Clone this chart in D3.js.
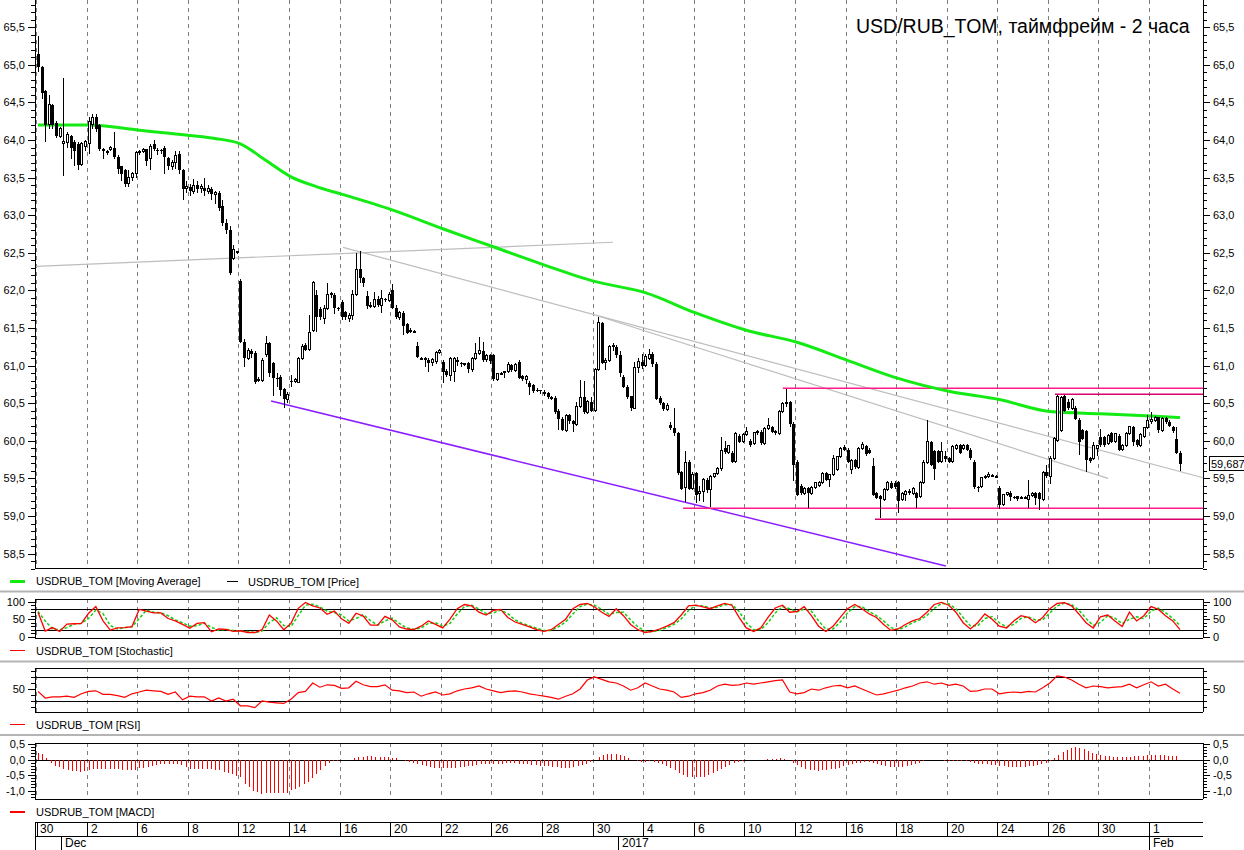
<!DOCTYPE html>
<html>
<head>
<meta charset="utf-8">
<script src="https://cdn.jsdelivr.net/npm/d3@7"></script>
<style>
  body { margin: 0; background: #fff; }
  text { font-family: "Liberation Sans", Arial, sans-serif; fill: #000; }
</style>
</head>
<body>
<div id="chart"></div>
<script>
// ---- data: 2-hour candles USD/RUB_TOM, 30 Nov 2016 - 1 Feb 2017 ----
var opens = [
  65.15,64.97,64.65,64.2,64.47,64.22,64.05,63.95,63.97,64.05,63.98,63.95,63.68,63.92,
  63.95,64.2,64.3,64.2,63.88,63.85,63.88,63.9,63.78,63.65,63.6,63.42,63.5,63.55,
  63.83,63.85,63.88,63.75,63.95,63.87,63.87,63.9,63.76,63.65,63.7,63.82,63.6,63.35,
  63.38,63.32,63.4,63.35,63.36,63.32,63.35,63.28,63.3,63.12,62.9,62.8,62.42,62.52,
  62.12,61.31,61.1,61.2,61.17,60.8,60.8,61.15,61.3,61.03,60.83,60.85,60.69,60.55,
  60.8,60.79,60.78,61.1,61.27,61.21,61.47,61.94,61.75,61.62,61.76,61.96,61.94,61.76,
  61.85,61.71,61.62,61.67,61.95,62.28,62.16,61.92,61.8,61.79,61.89,61.8,61.89,61.87,
  62.0,61.77,61.64,61.7,61.55,61.47,61.46,61.26,61.1,61.1,61.08,61.04,61.06,61.18,
  61.05,60.93,60.87,60.92,61.08,61.03,61.02,61.03,60.95,61.1,61.16,61.2,61.08,61.14,
  61.14,60.82,60.89,60.91,60.92,61.01,60.94,61.05,60.86,60.82,60.77,60.74,60.68,60.67,
  60.65,60.63,60.58,60.57,60.4,60.29,60.14,60.34,60.26,60.22,60.45,60.58,60.38,60.52,
  60.4,60.95,61.57,61.04,61.07,61.25,61.25,61.14,60.85,60.72,60.59,60.43,60.98,61.05,
  61.0,61.1,61.15,61.02,60.57,60.5,60.42,60.21,60.17,60.1,59.58,59.38,59.72,59.36,
  59.57,59.3,59.33,59.48,59.35,59.52,59.56,59.63,59.9,59.85,59.84,59.72,60.07,59.99,
  60.08,60.0,59.96,60.11,60.12,59.96,60.17,60.18,60.13,60.1,60.39,60.5,60.51,60.22,
  59.72,59.4,59.3,59.37,59.3,59.38,59.4,59.44,59.57,59.48,59.55,59.62,59.79,59.92,
  59.88,59.62,59.74,59.65,59.9,59.93,59.88,59.66,59.3,59.26,59.22,59.35,59.44,59.44,
  59.45,59.22,59.28,59.33,59.3,59.3,59.26,59.45,59.71,59.99,59.86,59.86,59.72,59.8,
  59.77,59.72,59.9,59.94,59.9,59.94,59.88,59.72,59.38,59.39,59.51,59.52,59.54,59.53,
  59.37,59.15,59.28,59.31,59.25,59.26,59.25,59.24,59.22,59.27,59.3,59.3,59.22,59.58,
  59.53,59.77,60.01,60.14,60.59,60.51,60.43,60.43,60.28,60.14,60.13,59.77,59.77,59.9,
  60.05,60.05,59.96,60.1,59.99,60.07,59.88,59.94,60.1,60.18,60.01,59.94,60.06,60.18,
  60.26,60.27,60.31,60.14,60.3,60.25,60.18,60.03,59.84
];
var highs = [
  65.38,64.99,64.66,64.6,64.48,64.25,64.17,64.82,64.1,64.06,64.0,63.97,63.97,64.0,
  64.3,64.35,64.35,64.21,63.9,63.87,63.92,64.1,63.8,63.66,63.62,63.6,63.58,63.85,
  63.87,63.9,63.88,63.95,64.0,63.9,63.88,63.92,63.78,63.73,63.85,63.85,63.62,63.45,
  63.42,63.48,63.45,63.42,63.5,63.4,63.38,63.32,63.32,63.2,62.95,62.85,62.6,62.53,
  62.15,61.35,61.23,61.22,61.2,60.85,61.1,61.4,61.32,61.05,60.9,60.87,60.7,60.65,
  60.87,60.83,61.12,61.29,61.3,61.67,62.12,62.0,61.78,61.8,62.1,61.98,61.96,61.78,
  61.87,61.73,61.7,62.0,62.5,62.52,62.18,61.99,61.84,61.98,61.92,62.0,61.9,61.98,
  62.08,61.8,61.72,61.72,61.57,61.5,61.48,61.32,61.12,61.11,61.1,61.1,61.2,61.22,
  61.08,60.95,61.12,61.12,61.12,61.05,61.04,61.05,61.12,61.3,61.38,61.32,61.16,61.16,
  61.16,60.9,60.92,60.93,61.05,61.02,61.03,61.08,60.88,60.87,60.8,60.76,60.7,60.68,
  60.67,60.65,60.6,60.59,60.42,60.31,60.36,60.36,60.28,60.52,60.81,60.8,60.54,60.58,
  60.97,61.65,61.58,61.1,61.27,61.3,61.28,61.2,60.87,60.74,60.6,61.05,61.1,61.15,
  61.15,61.22,61.18,61.05,60.6,60.52,60.5,60.25,60.43,60.12,59.6,59.86,59.74,59.58,
  59.58,59.4,59.5,59.5,59.54,59.57,59.65,60.05,60.0,59.95,59.86,60.12,60.09,60.1,
  60.18,60.02,60.12,60.14,60.14,60.18,60.3,60.2,60.15,60.41,60.52,60.69,60.53,60.25,
  59.74,59.42,59.38,59.39,59.4,59.45,59.46,59.58,59.58,59.56,59.81,59.8,59.92,59.94,
  59.9,59.76,59.76,59.92,59.98,59.95,59.9,59.77,59.32,59.28,59.37,59.46,59.46,59.46,
  59.47,59.32,59.35,59.36,59.38,59.32,59.47,59.75,60.27,60.0,59.88,59.88,59.99,59.86,
  59.79,59.94,59.96,59.96,59.96,59.96,59.9,59.74,59.4,59.52,59.55,59.58,59.56,59.55,
  59.4,59.29,59.32,59.33,59.26,59.27,59.27,59.26,59.48,59.32,59.32,59.32,59.6,59.68,
  59.8,60.05,60.61,60.6,60.61,60.55,60.57,60.46,60.3,60.16,60.15,59.79,59.98,59.95,
  60.16,60.07,60.09,60.12,60.11,60.09,59.96,60.12,60.2,60.2,60.03,60.1,60.19,60.34,
  60.38,60.33,60.32,60.31,60.32,60.27,60.2,60.19,59.86
];
var lows = [
  64.9,64.55,63.97,64.15,64.15,64.03,64.03,63.52,63.9,63.75,63.65,63.6,63.65,63.85,
  63.82,64.15,64.1,63.85,63.75,63.8,63.85,63.75,63.55,63.45,63.38,63.38,63.45,63.5,
  63.8,63.83,63.65,63.6,63.85,63.8,63.82,63.55,63.6,63.6,63.62,63.55,63.2,63.3,
  63.25,63.28,63.3,63.3,63.25,63.28,63.2,63.15,63.05,62.85,62.75,62.2,62.4,62.48,
  61.3,60.98,61.08,61.1,60.76,60.78,60.78,61.12,60.85,60.6,60.72,60.6,60.44,60.5,
  60.72,60.77,60.77,61.08,61.2,61.2,61.45,61.45,61.6,61.55,61.74,61.9,61.68,61.72,
  61.6,61.6,61.58,61.6,61.92,62.1,62.05,61.75,61.77,61.76,61.78,61.7,61.84,61.85,
  61.75,61.62,61.6,61.41,61.42,61.43,61.44,61.1,61.08,60.98,60.92,61.0,61.02,61.16,
  60.77,60.85,60.8,60.78,61.0,60.98,61.0,60.9,60.92,61.08,61.14,61.05,61.05,61.02,
  60.8,60.8,60.87,60.83,60.9,60.92,60.92,60.82,60.8,60.75,60.61,60.64,60.65,60.62,
  60.6,60.56,60.54,60.36,60.14,60.13,60.12,60.22,60.12,60.2,60.43,60.36,60.36,60.38,
  60.38,60.93,61.02,60.94,61.05,61.2,61.1,60.85,60.7,60.56,60.39,60.42,60.9,60.95,
  60.98,61.08,60.98,60.54,60.48,60.4,60.4,60.15,60.07,59.55,59.34,59.18,59.34,59.34,
  59.17,59.2,59.19,59.3,59.12,59.5,59.54,59.6,59.83,59.82,59.7,59.7,59.97,59.97,
  60.06,59.92,59.94,60.08,59.95,59.94,60.15,60.1,60.08,60.08,60.37,60.45,60.18,59.47,
  59.26,59.28,59.28,59.1,59.28,59.36,59.38,59.42,59.46,59.38,59.53,59.6,59.77,59.87,
  59.7,59.56,59.63,59.63,59.88,59.8,59.82,59.26,59.22,58.97,59.2,59.33,59.36,59.36,
  59.04,59.2,59.2,59.28,59.28,59.1,59.24,59.43,59.69,59.66,59.48,59.7,59.7,59.72,
  59.7,59.7,59.88,59.82,59.88,59.86,59.75,59.36,59.32,59.37,59.49,59.5,59.52,59.51,
  59.09,59.13,59.26,59.2,59.22,59.2,59.23,59.22,59.1,59.25,59.15,59.08,59.2,59.5,
  59.42,59.75,59.99,60.12,60.38,60.41,60.41,60.27,59.81,60.01,59.59,59.71,59.75,59.8,
  59.92,59.92,59.94,59.97,59.97,59.86,59.86,59.92,60.08,59.93,59.92,59.92,60.04,60.16,
  60.22,60.25,60.1,60.12,60.23,60.18,60.1,59.82,59.6
];
var closes = [
  64.97,64.63,64.2,64.47,64.2,64.05,64.15,63.98,64.07,63.9,63.85,63.67,63.95,63.98,
  64.25,64.3,64.15,63.88,63.86,63.83,63.9,63.78,63.62,63.55,63.42,63.5,63.55,63.83,
  63.85,63.87,63.72,63.92,63.88,63.86,63.85,63.78,63.65,63.7,63.8,63.6,63.35,63.38,
  63.32,63.4,63.35,63.38,63.32,63.35,63.28,63.3,63.1,62.9,62.8,62.23,62.55,62.5,
  61.31,61.1,61.2,61.15,60.78,60.82,61.07,61.3,60.9,60.83,60.82,60.68,60.55,60.62,
  60.79,60.81,61.1,61.26,61.21,61.44,62.11,61.64,61.65,61.76,61.94,61.94,61.76,61.75,
  61.64,61.64,61.67,61.95,62.28,62.16,62.1,61.79,61.8,61.88,61.8,61.89,61.87,61.95,
  61.77,61.64,61.7,61.53,61.44,61.45,61.46,61.11,61.1,61.08,61.04,61.08,61.18,61.2,
  60.92,60.87,61.1,61.1,61.05,61.02,61.03,60.95,61.1,61.16,61.2,61.08,61.14,61.06,
  60.82,60.89,60.9,60.92,61.01,60.94,61.01,60.84,60.82,60.85,60.71,60.66,60.66,60.66,
  60.62,60.58,60.56,60.38,60.29,60.14,60.34,60.26,60.23,60.45,60.57,60.38,60.52,60.4,
  60.95,61.57,61.04,61.07,61.25,61.27,61.14,60.9,60.72,60.58,60.43,60.98,61.05,61.0,
  61.12,61.15,61.02,60.56,60.5,60.42,60.47,60.17,60.1,59.57,59.36,59.71,59.36,59.55,
  59.28,59.33,59.48,59.35,59.52,59.56,59.63,59.87,59.85,59.94,59.72,60.1,59.99,60.08,
  60.12,59.94,60.11,60.12,59.97,60.17,60.2,60.12,60.1,60.39,60.5,60.51,60.22,59.68,
  59.28,59.3,59.37,59.3,59.38,59.44,59.44,59.57,59.48,59.55,59.77,59.79,59.9,59.88,
  59.72,59.74,59.65,59.9,59.95,59.82,59.84,59.28,59.24,59.22,59.35,59.44,59.37,59.38,
  59.2,59.3,59.33,59.3,59.36,59.24,59.45,59.71,59.99,59.68,59.63,59.72,59.86,59.76,
  59.72,59.92,59.94,59.84,59.94,59.88,59.77,59.38,59.37,59.51,59.53,59.55,59.54,59.53,
  59.15,59.28,59.31,59.25,59.24,59.22,59.25,59.24,59.27,59.3,59.24,59.22,59.58,59.53,
  59.77,60.03,60.59,60.58,60.4,60.43,60.55,60.29,59.99,60.03,59.74,59.73,59.94,59.94,
  59.94,59.94,60.07,59.99,60.1,59.88,59.94,60.1,60.19,59.99,59.94,60.08,60.18,60.27,
  60.28,60.31,60.14,60.29,60.25,60.2,60.13,59.84,59.687
];

// moving average, read at these bar numbers
var maBars = [0,14,28,42,49,56,63,70,77,84,98,112,126,140,154,168,182,196,210,224,238,252,266,280,294,308,316];
var maValues = [64.2,64.2,64.13,64.06,64.02,63.95,63.73,63.51,63.38,63.28,63.07,62.82,62.58,62.34,62.12,61.97,61.7,61.47,61.31,61.07,60.83,60.66,60.55,60.39,60.36,60.33,60.31];

// stochastic %K / %D and RSI, one reading every 2 bars
var stochK = [70,16,26,15,36,37,38,67,86,45,19,25,26,29,78,73,68,68,52,45,35,24,38,40,14,22,21,15,17,12,12,20,62,45,20,38,81,98,88,82,64,73,51,38,67,59,33,33,58,48,28,
  22,20,30,45,35,25,50,80,92,88,70,62,75,78,55,42,35,28,20,15,20,35,50,80,92,95,85,70,58,80,
  60,35,20,12,15,22,30,40,62,88,90,85,80,88,95,90,55,25,15,25,55,82,90,70,72,86,60,30,15,30,
  55,80,92,80,65,55,35,18,22,35,45,52,70,92,98,90,70,40,22,40,65,50,30,25,45,60,55,40,55,80,
  95,97,88,65,40,25,57,62,45,29,70,45,60,86,78,60,45,20];
var stochD = [72,45,22,20,26,36,38,52,76,66,32,22,26,28,52,76,70,68,60,48,40,30,31,39,27,18,21,18,16,15,12,16,40,54,32,29,60,90,93,85,73,69,62,45,52,63,46,33,45,53,38,
  25,21,25,38,40,30,38,65,86,90,79,66,68,76,66,48,38,31,24,18,18,28,42,65,86,93,90,78,64,69,
  70,48,28,16,14,18,26,35,51,75,89,88,82,84,91,92,72,40,20,20,40,68,86,80,71,79,73,45,22,22,
  42,68,86,86,72,60,45,26,20,28,40,48,61,81,95,94,80,55,31,31,52,57,40,28,35,52,57,48,48,68,
  88,96,92,76,52,32,41,60,53,37,50,57,52,73,82,69,52,32];
var rsi = [46,35,37,37,38,36,42,46,47,41,41,39,36,42,45,48,47,46,41,45,32,38,37,37,30,35,30,33,22,22,19,30,28,27,26,33,44,46,60,53,57,56,51,52,63,57,54,54,57,48,47,
  44,45,38,42,45,40,42,47,50,52,55,50,47,44,46,47,45,42,40,38,36,33,38,42,50,65,70,66,62,60,
  55,48,52,60,55,50,48,45,36,38,42,44,48,55,58,56,57,60,58,60,62,64,65,45,42,44,50,48,52,55,
  56,52,55,50,45,40,42,45,48,52,55,60,62,58,60,56,58,55,46,47,50,50,42,44,45,44,46,45,52,60,
  72,70,65,58,52,55,54,52,53,54,58,52,57,62,55,58,50,43];

// MACD histogram, 12 readings per two trading days
var macd = [0.2,0.18,0.04,-0.12,-0.2,-0.25,-0.3,-0.33,-0.36,-0.38,-0.4,-0.36,-0.35,-0.31,-0.3,-0.3,-0.3,-0.3,-0.3,-0.31,
  -0.33,-0.33,-0.34,-0.33,-0.28,-0.26,-0.24,-0.22,-0.19,-0.16,-0.15,-0.15,-0.15,-0.13,-0.18,-0.24,-0.3,-0.3,-0.3,-0.3,
  -0.31,-0.32,-0.33,-0.35,-0.39,-0.43,-0.47,-0.52,-0.56,-0.78,-0.9,-1.0,-1.06,-1.1,-1.09,-1.08,-1.07,-1.07,-1.07,-1.07,
  -0.98,-0.95,-0.9,-0.8,-0.72,-0.59,-0.46,-0.33,-0.21,-0.1,-0.04,-0.05,-0.02,-0.03,-0.01,0.04,0.07,0.09,0.11,0.1,
  0.08,0.07,0.07,0.07,0.06,0.05,-0.02,-0.05,-0.08,-0.1,-0.14,-0.18,-0.21,-0.24,-0.26,-0.27,
  -0.28,-0.28,-0.27,-0.26,-0.25,-0.24,-0.22,-0.2,-0.18,-0.16,-0.15,-0.14,-0.14,-0.14,-0.13,-0.12,-0.12,-0.12,-0.13,-0.14,
  -0.15,-0.17,-0.19,-0.2,-0.21,-0.22,-0.23,-0.25,-0.27,-0.28,-0.27,-0.25,-0.22,-0.18,-0.14,-0.08,0.0,0.08,0.14,0.17,
  0.18,0.17,0.14,0.1,0.05,-0.02,-0.06,-0.08,-0.07,-0.06,-0.08,-0.12,-0.16,-0.2,-0.26,-0.33,-0.42,-0.5,-0.55,-0.57,
  -0.58,-0.57,-0.55,-0.5,-0.45,-0.38,-0.3,-0.23,-0.17,-0.12,-0.08,-0.05,-0.03,-0.02,-0.02,-0.01,0.0,0.01,0.02,0.03,
  0.04,0.03,-0.03,-0.1,-0.18,-0.25,-0.3,-0.33,-0.35,-0.36,-0.35,-0.34,-0.32,-0.3,-0.26,-0.22,-0.18,-0.15,-0.12,-0.1,
  -0.08,-0.07,-0.1,-0.14,-0.18,-0.21,-0.23,-0.24,-0.24,-0.23,-0.21,-0.18,-0.14,-0.1,-0.06,-0.03,-0.02,-0.02,-0.03,-0.04,
  -0.05,-0.05,-0.05,-0.05,-0.06,-0.07,-0.1,-0.13,-0.15,-0.16,-0.17,-0.18,-0.2,-0.22,-0.23,-0.24,-0.24,-0.24,-0.23,-0.22,
  -0.2,-0.18,-0.15,-0.1,-0.04,0.05,0.15,0.25,0.32,0.38,0.4,0.38,0.33,0.27,0.22,0.17,0.14,0.12,0.1,0.09,
  0.08,0.08,0.08,0.09,0.1,0.11,0.12,0.13,0.14,0.14,0.14,0.13,0.12,0.11,0.1];

// drawn lines: [bar, price] end points
var grayFlat = [[-0.55, 62.32], [159.1, 62.64]];
var grayA = [[84.4, 62.573], [322.4, 59.509]];
var grayB = [[155, 61.66], [296.1, 59.5]];
var purpleLine = [[64.5, 60.53], [251.2, 58.335]];
var pinkLines = [
  {from: 206.1, price: 60.698},
  {from: 281.4, price: 60.618},
  {from: 178.5, price: 59.102},
  {from: 231.6, price: 58.956}
];
var lineEnd = 322.4;

// time axis
var dayLabels = ["30","2","6","8","12","14","16","20","22","26","28","30","4","6","10","12","16","18","20","24","26","30","1"];
var barsPerLabel = 14;
var months = [{bar: 7, name: "Dec"}, {bar: 161, name: "2017"}, {bar: 308, name: "Feb"}];

// ---- drawing ----
var W = 1244, H = 850, L = 35, R = 1203;
var svg = d3.select("#chart").append("svg").attr("width", W).attr("height", H);

var x = d3.scaleLinear().domain([0, closes.length - 1]).range([38, 1180]);
var y = d3.scaleLinear().domain([58.5, 65.5]).range([553.6, 27.2]);
var yStoch = d3.scaleLinear().domain([0, 100]).range([636.7, 601.7]);
var yRsi = d3.scaleLinear().domain([10, 80]).range([713, 671]);
var yMacd = d3.scaleLinear().domain([-1, 0.5]).range([790.5, 744]);

var fmt = function(v) { return d3.format(".1f")(v).replace(".", ",").replace("\u2212", "-"); };

var panels = [
  {top: 0, bottom: 568},
  {top: 599, bottom: 638},
  {top: 668, bottom: 712},
  {top: 743, bottom: 799}
];

var gridX = d3.range(dayLabels.length).map(function(k) { return Math.round(x(k * barsPerLabel)) - 2; });

// dashed day lines
panels.forEach(function(p) {
  svg.append("g").selectAll("line").data(gridX).join("line")
    .attr("x1", d => d + 0.5).attr("x2", d => d + 0.5)
    .attr("y1", p.top).attr("y2", p.bottom)
    .attr("stroke", "#808080").attr("stroke-dasharray", "4,4");
});

// frames
var frame = svg.append("g").attr("stroke", "#000").attr("shape-rendering", "crispEdges");
panels.forEach(function(p, i) {
  frame.append("line").attr("x1", L).attr("x2", L).attr("y1", p.top).attr("y2", p.bottom);
  frame.append("line").attr("x1", R).attr("x2", R).attr("y1", p.top).attr("y2", p.bottom);
  frame.append("line").attr("x1", L).attr("x2", R).attr("y1", p.bottom).attr("y2", p.bottom);
  if (i > 0) frame.append("line").attr("x1", L).attr("x2", R).attr("y1", p.top).attr("y2", p.top);
});

// gray separators between panels
[591.5, 661.5, 735].forEach(function(s) {
  svg.append("line").attr("x1", 0).attr("x2", W).attr("y1", s).attr("y2", s)
    .attr("stroke", "#b4b4b4").attr("stroke-width", 2);
});

function fmtFor(major) {
  return major.some(v => v % 1 !== 0) ? fmt : d3.format("d");
}
function drawAxes(scale, major, minor, majorSize, minorSize) {
  [[L, d3.axisLeft], [R, d3.axisRight]].forEach(function(side) {
    var gMinor = svg.append("g").attr("transform", "translate(" + side[0] + ",0)")
      .call(side[1](scale).tickValues(minor).tickSize(minorSize).tickFormat(""));
    gMinor.select(".domain").remove();
    var gMajor = svg.append("g").attr("transform", "translate(" + side[0] + ",0)")
      .call(side[1](scale).tickValues(major).tickSize(majorSize).tickFormat(fmtFor(major)));
    gMajor.select(".domain").remove();
    svg.selectAll(".tick line").attr("stroke", "#000").attr("shape-rendering", "crispEdges");
    gMajor.selectAll("text").attr("font-size", 11).attr("font-family", "Liberation Sans, Arial, sans-serif");
  });
}

drawAxes(y, d3.range(117, 132).map(v => v / 2), d3.range(583, 659).map(v => v / 10), 7, 4);
drawAxes(yStoch, [0, 50, 100], [10, 20, 30, 40, 60, 70, 80, 90], 7, 4);
drawAxes(yRsi, [50], [20, 30, 40, 60, 70, 80], 7, 4);
drawAxes(yMacd, [-1, -0.5, 0, 0.5], d3.range(-12, 6).map(v => v / 10), 7, 4);

// level lines
var levels = svg.append("g").attr("stroke", "#000").attr("shape-rendering", "crispEdges");
[yStoch(80), yStoch(20), yRsi(70), yRsi(30), yMacd(0)].forEach(function(v) {
  levels.append("line").attr("x1", L).attr("x2", R).attr("y1", Math.round(v) + 0.5).attr("y2", Math.round(v) + 0.5);
});

// trend lines
var tl = d3.line().x(d => x(d[0])).y(d => y(d[1]));
[grayFlat, grayA, grayB].forEach(function(pts) {
  svg.append("path").attr("d", tl(pts)).attr("fill", "none").attr("stroke", "#bdbdbd").attr("stroke-width", 1.2);
});
svg.append("path").attr("d", tl(purpleLine)).attr("fill", "none").attr("stroke", "#8a1cff").attr("stroke-width", 1.5);
pinkLines.forEach(function(p, i) {
  svg.append("path").attr("d", tl([[p.from, p.price], [lineEnd, p.price]]))
    .attr("fill", "none").attr("stroke", i % 2 ? "#d9006e" : "#ff1a8c").attr("stroke-width", 1.5);
});

// moving average
svg.append("path")
  .attr("d", d3.line().x((d, i) => x(maBars[i])).y(d => y(d)).curve(d3.curveMonotoneX)(maValues))
  .attr("fill", "none").attr("stroke", "#14ea14").attr("stroke-width", 3);

// candles
var candles = d3.range(closes.length).map(i => ({i: i, o: opens[i], h: highs[i], l: lows[i], c: closes[i]}));
var cg = svg.append("g").attr("shape-rendering", "crispEdges");
cg.selectAll("line").data(candles).join("line")
  .attr("x1", d => Math.round(x(d.i)) + 0.5).attr("x2", d => Math.round(x(d.i)) + 0.5)
  .attr("y1", d => y(d.h)).attr("y2", d => y(d.l))
  .attr("stroke", "#000");
cg.selectAll("rect").data(candles).join("rect")
  .attr("x", d => Math.round(x(d.i)) - (d.c < d.o ? 1 : 0.5))
  .attr("width", d => d.c < d.o ? 3 : 2)
  .attr("y", d => y(Math.max(d.o, d.c)))
  .attr("height", d => Math.max(1, y(Math.min(d.o, d.c)) - y(Math.max(d.o, d.c))))
  .attr("fill", d => d.c < d.o ? "#000" : "#fff")
  .attr("stroke", d => d.c < d.o ? "none" : "#000");

// last price label
var last = closes[closes.length - 1];
svg.append("rect").attr("x", 1209.5).attr("y", Math.round(y(last)) - 7.5).attr("width", 40).attr("height", 14)
  .attr("fill", "#fff").attr("stroke", "#000");
svg.append("text").attr("x", 1211).attr("y", Math.round(y(last)) + 4).attr("font-size", 11)
  .text(d3.format(".3f")(last).replace(".", ","));

// stochastic
var stX = (d, i) => x(i * 2);
svg.append("path").attr("d", d3.line().x(stX).y(d => yStoch(d))(stochD))
  .attr("fill", "none").attr("stroke", "#10d010").attr("stroke-width", 1.5).attr("stroke-dasharray", "3,2");
svg.append("path").attr("d", d3.line().x(stX).y(d => yStoch(d))(stochK))
  .attr("fill", "none").attr("stroke", "#ff0000").attr("stroke-width", 1.3);

// RSI
svg.append("path").attr("d", d3.line().x(stX).y(d => yRsi(d))(rsi))
  .attr("fill", "none").attr("stroke", "#ff0000").attr("stroke-width", 1.2);

// MACD
svg.append("g").attr("shape-rendering", "crispEdges").selectAll("line").data(macd).join("line")
  .attr("x1", (d, i) => Math.round(x(i * 14 / 12)) + 0.5).attr("x2", (d, i) => Math.round(x(i * 14 / 12)) + 0.5)
  .attr("y1", yMacd(0)).attr("y2", d => yMacd(d))
  .attr("stroke", "#ff0000");

// legends
function legend(yy, color, width, label, x0, lineX) {
  svg.append("line").attr("x1", lineX[0]).attr("x2", lineX[1]).attr("y1", yy).attr("y2", yy)
    .attr("stroke", color).attr("stroke-width", width).attr("shape-rendering", "crispEdges");
  svg.append("text").attr("x", x0).attr("y", yy + 4).attr("font-size", 11).text(label);
}
legend(581, "#14ea14", 3, "USDRUB_TOM [Moving Average]", 36, [10, 25]);
legend(581.5, "#000", 1, "USDRUB_TOM [Price]", 248, [227, 238]);
legend(650.5, "#ff0000", 1.5, "USDRUB_TOM [Stochastic]", 36, [10, 25]);
legend(724.5, "#ff0000", 1.5, "USDRUB_TOM [RSI]", 36, [10, 25]);
legend(812, "#ff0000", 1.5, "USDRUB_TOM [MACD]", 36, [10, 25]);

// title
svg.append("text").attr("x", 856).attr("y", 33).attr("font-size", 19.5).text("USD/RUB_TOM, таймфрейм - 2 часа");

// date axis
var da = svg.append("g").attr("stroke", "#000").attr("shape-rendering", "crispEdges");
da.append("line").attr("x1", L).attr("x2", R).attr("y1", 822).attr("y2", 822);
da.append("line").attr("x1", L).attr("x2", R).attr("y1", 836).attr("y2", 836);
da.append("line").attr("x1", L).attr("x2", L).attr("y1", 822).attr("y2", 850);
da.append("line").attr("x1", L + 2).attr("x2", L + 2).attr("y1", 822).attr("y2", 836);
gridX.forEach(function(gx, k) {
  if (k > 0) da.append("line").attr("x1", gx).attr("x2", gx).attr("y1", 822).attr("y2", 836);
});
svg.append("g").selectAll("text").data(dayLabels).join("text")
  .attr("x", (d, k) => gridX[k] + 4).attr("y", 833).attr("font-size", 12).text(d => d);
months.forEach(function(m) {
  var mx = Math.round(x(m.bar)) - 2;
  da.append("line").attr("x1", mx).attr("x2", mx).attr("y1", 836).attr("y2", 850);
  svg.append("text").attr("x", mx + 4).attr("y", 847).attr("font-size", 12).text(m.name);
});
</script>
</body>
</html>
